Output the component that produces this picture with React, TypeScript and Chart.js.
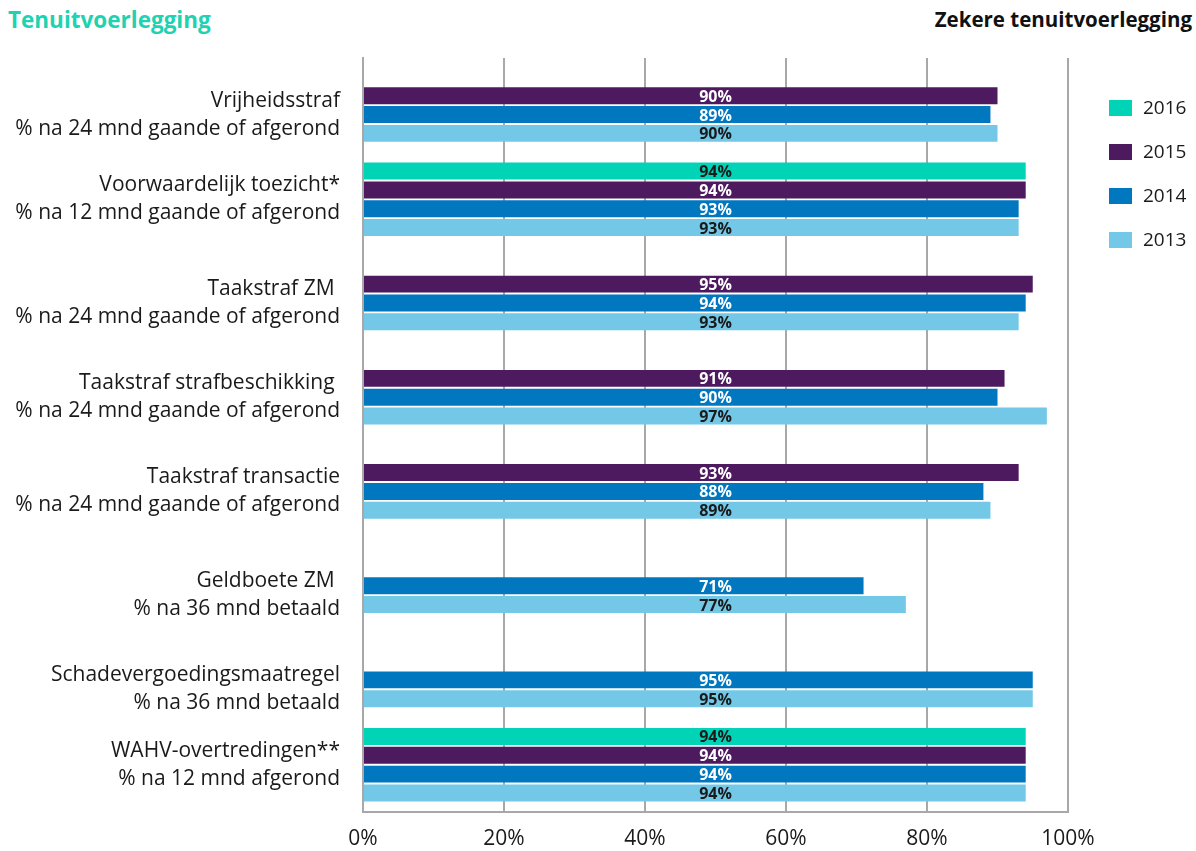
import React, { useEffect, useRef } from "react";
import { Chart, registerables } from "chart.js";

Chart.register(...registerables);

const categoryTitles: string[] = [
  "Vrijheidsstraf",
  "Voorwaardelijk toezicht*",
  "Taakstraf ZM ",
  "Taakstraf strafbeschikking ",
  "Taakstraf transactie",
  "Geldboete ZM ",
  "Schadevergoedingsmaatregel",
  "WAHV-overtredingen**",
];
const categorySubtitles: string[] = [
  "% na 24 mnd gaande of afgerond",
  "% na 12 mnd gaande of afgerond",
  "% na 24 mnd gaande of afgerond",
  "% na 24 mnd gaande of afgerond",
  "% na 24 mnd gaande of afgerond",
  "% na 36 mnd betaald",
  "% na 36 mnd betaald",
  "% na 12 mnd afgerond",
];

const seriesNames: string[] = ["2016", "2015", "2014", "2013"];
const values2016: (number | null)[] = [null, 94, null, null, null, null, null, 94];
const values2015: (number | null)[] = [90, 94, 95, 91, 93, null, null, 94];
const values2014: (number | null)[] = [89, 93, 94, 90, 88, 71, 95, 94];
const values2013: (number | null)[] = [90, 93, 93, 97, 89, 77, 95, 94];
const seriesColors: string[] = ["#00D3B6", "#4E1A5F", "#0077BF", "#72C8E6"];
const labelColors: string[] = ["#1a1a1a", "#ffffff", "#ffffff", "#1a1a1a"];
const xTicks: number[] = [0, 20, 40, 60, 80, 100];

const FONT = "'Open Sans', 'Noto Sans', sans-serif";

const yLabelPlugin = {
  id: "yLabels",
  afterDraw(chart: any) {
    const ctx = chart.ctx;
    ctx.save();
    ctx.font = `21px ${FONT}`;
    ctx.fillStyle = "#1a1a1a";
    ctx.textAlign = "right";
    ctx.textBaseline = "middle";
    const x = chart.chartArea.left - 23;
    categoryTitles.forEach((t, i) => {
      let minY = Infinity;
      let maxY = -Infinity;
      chart.data.datasets.forEach((ds: any, di: number) => {
        if (ds.data[i] == null) return;
        const el = chart.getDatasetMeta(di).data[i];
        if (!el) return;
        minY = Math.min(minY, el.y);
        maxY = Math.max(maxY, el.y);
      });
      const c = (minY + maxY) / 2;
      ctx.fillText(t, x, c - 14);
      ctx.fillText(categorySubtitles[i], x, c + 14);
    });
    ctx.restore();
  },
};

const valueLabelPlugin = {
  id: "valueLabels",
  afterDatasetsDraw(chart: any) {
    const ctx = chart.ctx;
    const xs = chart.scales.x;
    const cx = xs.getPixelForValue(50);
    ctx.save();
    ctx.font = `bold 16px ${FONT}`;
    ctx.textAlign = "center";
    ctx.textBaseline = "middle";
    chart.data.datasets.forEach((ds: any, di: number) => {
      const meta = chart.getDatasetMeta(di);
      ctx.fillStyle = labelColors[di];
      ds.data.forEach((v: number | null, i: number) => {
        if (v == null) return;
        const el = meta.data[i];
        ctx.fillText(`${v}%`, cx, el.y + 1.5);
      });
    });
    ctx.restore();
  },
};

const legendPlugin = {
  id: "customLegend",
  afterDraw(chart: any) {
    const ctx = chart.ctx;
    const a = chart.chartArea;
    ctx.save();
    ctx.font = `19px ${FONT}`;
    ctx.textAlign = "left";
    ctx.textBaseline = "middle";
    chart.data.datasets.forEach((ds: any, di: number) => {
      const y = a.top + 50 + di * 44;
      ctx.fillStyle = ds.backgroundColor;
      ctx.fillRect(a.right + 41, y - 8, 23, 16);
      ctx.fillStyle = "#1a1a1a";
      ctx.fillText(ds.label, a.right + 75, y + 1);
    });
    ctx.restore();
  },
};

export default function App() {
  const ref = useRef<HTMLCanvasElement | null>(null);
  useEffect(() => {
    if (!ref.current) return;
    const seriesValues = [values2016, values2015, values2014, values2013];
    const chart = new Chart(ref.current, {
      type: "bar",
      data: {
        labels: categoryTitles,
        datasets: seriesNames.map((n, i) => ({
          label: n,
          data: seriesValues[i],
          backgroundColor: seriesColors[i],
          barPercentage: 0.9,
          categoryPercentage: 0.8,
        })),
      },
      options: {
        indexAxis: "y",
        animation: false,
        responsive: false,
        devicePixelRatio: 1,
        layout: { padding: { left: 363, right: 128, top: 58, bottom: 0 } },
        plugins: {
          legend: { display: false },
          tooltip: { enabled: false },
          title: { display: false },
        },
        scales: {
          x: {
            type: "linear",
            position: "bottom",
            min: 0,
            max: 100,
            afterBuildTicks: (s: any) => {
              s.ticks = xTicks.map((v) => ({ value: v }));
            },
            ticks: {
              callback: (v: any) => `${v}%`,
              font: { family: FONT, size: 21 },
              color: "#1a1a1a",
              padding: 15,
            },
            grid: { color: "#a8a8a8", lineWidth: 2, drawTicks: false },
            border: { color: "#a8a8a8", width: 2 },
          },
          y: {
            ticks: { display: false },
            grid: { display: false, drawTicks: false },
            border: { display: true, color: "#a8a8a8", width: 2 },
          },
        },
      },
      plugins: [valueLabelPlugin, yLabelPlugin, legendPlugin],
    } as any);
    return () => chart.destroy();
  }, []);

  return (
    <div
      style={{
        position: "absolute",
        left: 0,
        top: 0,
        width: 1196,
        height: 851,
        overflow: "hidden",
        background: "#fff",
      }}
    >
      <div
        style={{
          position: "absolute",
          left: 8,
          top: 4,
          font: `bold 22.5px ${FONT}`,
          color: "#1ED2B2",
          whiteSpace: "nowrap",
        }}
      >
        Tenuitvoerlegging
      </div>
      <div
        style={{
          position: "absolute",
          right: 4,
          top: 5,
          font: `bold 20.5px ${FONT}`,
          color: "#111",
          whiteSpace: "nowrap",
        }}
      >
        Zekere tenuitvoerlegging
      </div>
      <canvas ref={ref} width={1196} height={867} style={{ position: "absolute", left: 0, top: 0 }} />
    </div>
  );
}
